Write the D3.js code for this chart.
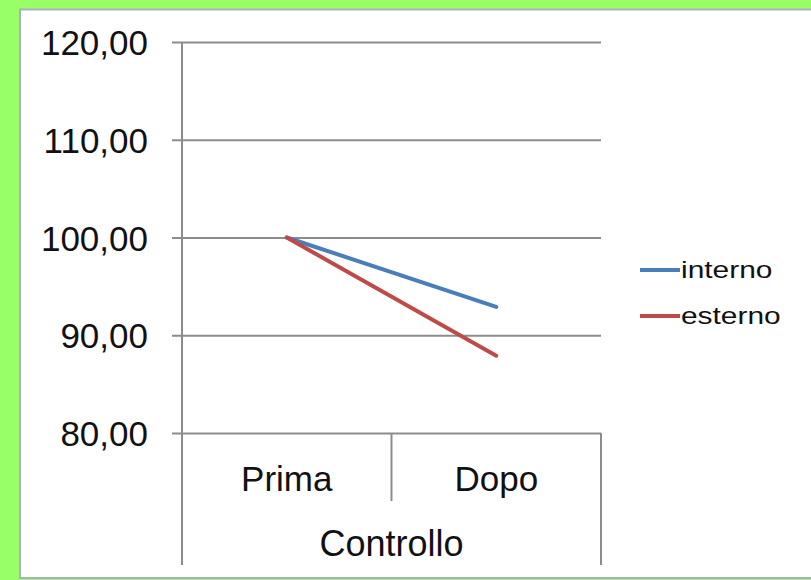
<!DOCTYPE html>
<html>
<head>
<meta charset="utf-8">
<script src="https://cdn.jsdelivr.net/npm/d3@7"></script>
<style>
  html, body { margin: 0; padding: 0; background: #99ff66; }
  svg { display: block; }
  text { font-family: "Liberation Sans", Arial, sans-serif; fill: #111; }
</style>
</head>
<body>
<svg id="chart" width="811" height="580"></svg>
<script>
const categories = ["Prima", "Dopo"];
const groupLabel = "Controllo";
const seriesNames = ["interno", "esterno"];
const internoValues = [100.0, 92.9];
const esternoValues = [100.0, 87.9];
const yTicks = [80, 90, 100, 110, 120];
const colors = ["#4a7ebb", "#be4b48"];

const series = [
  { name: seriesNames[0], values: internoValues, color: colors[0] },
  { name: seriesNames[1], values: esternoValues, color: colors[1] }
];

const svg = d3.select("#chart");
svg.append("rect").attr("x", 0).attr("y", 0).attr("width", 811).attr("height", 580).attr("fill", "#99ff66");
svg.append("rect").attr("x", 20).attr("y", 9.5).attr("width", 800).attr("height", 568.5)
  .attr("fill", "#ffffff").attr("stroke", "#a9b0bd").attr("stroke-width", 2);

const x = d3.scaleBand().domain(categories).range([182, 601]);
const y = d3.scaleLinear().domain([80, 120]).range([433, 42]);

const fmt = d => d.toFixed(2).replace(".", ",");

// gridlines + y labels
const yAxis = d3.axisLeft(y).tickValues(yTicks).tickFormat(fmt).tickSize(-(601 - 172)).tickPadding(24);
const gy = svg.append("g").attr("transform", "translate(172,0)").call(yAxis);
gy.select(".domain").remove();
gy.selectAll(".tick line").attr("stroke", "#8c8c8c").attr("stroke-width", 2);
gy.selectAll(".tick text").attr("font-size", 35).attr("fill", "#111")
  .style("font-family", "'Liberation Sans', Arial, sans-serif").attr("dy", "0.36em");

// vertical axis line
svg.append("line").attr("x1", 182).attr("x2", 182).attr("y1", 42).attr("y2", 565)
  .attr("stroke", "#8c8c8c").attr("stroke-width", 2);
svg.append("line").attr("x1", 601).attr("x2", 601).attr("y1", 433).attr("y2", 565)
  .attr("stroke", "#8c8c8c").attr("stroke-width", 2);

// category axis
const xAxis = d3.axisBottom(x).tickSize(0).tickPadding(0);
const gx = svg.append("g").attr("transform", "translate(0,433)").call(xAxis);
gx.select(".domain").remove();
gx.selectAll(".tick text").attr("font-size", 35).attr("fill", "#111")
  .style("font-family", "'Liberation Sans', Arial, sans-serif").attr("y", 58).attr("dy", 0);

// dividers between categories
categories.slice(1).forEach(c => {
  svg.append("line").attr("x1", x(c)).attr("x2", x(c)).attr("y1", 433).attr("y2", 501)
    .attr("stroke", "#8c8c8c").attr("stroke-width", 2);
});

svg.append("text").attr("x", (x.range()[0] + x.range()[1]) / 2).attr("y", 556)
  .attr("text-anchor", "middle").attr("font-size", 36).text(groupLabel);

// lines
const line = d3.line().x((d, i) => x(categories[i]) + x.bandwidth() / 2).y(d => y(d));
series.forEach(s => {
  svg.append("path").datum(s.values).attr("d", line).attr("fill", "none")
    .attr("stroke", s.color).attr("stroke-width", 4).attr("stroke-linecap", "round");
});

// legend
const legY = [270, 316];
series.forEach((s, i) => {
  svg.append("line").attr("x1", 640).attr("x2", 680).attr("y1", legY[i]).attr("y2", legY[i])
    .attr("stroke", s.color).attr("stroke-width", 4);
  svg.append("text").attr("transform", `translate(681,${legY[i] + 8}) scale(1.3,1)`)
    .attr("font-size", 23).text(s.name);
});
</script>
</body>
</html>
